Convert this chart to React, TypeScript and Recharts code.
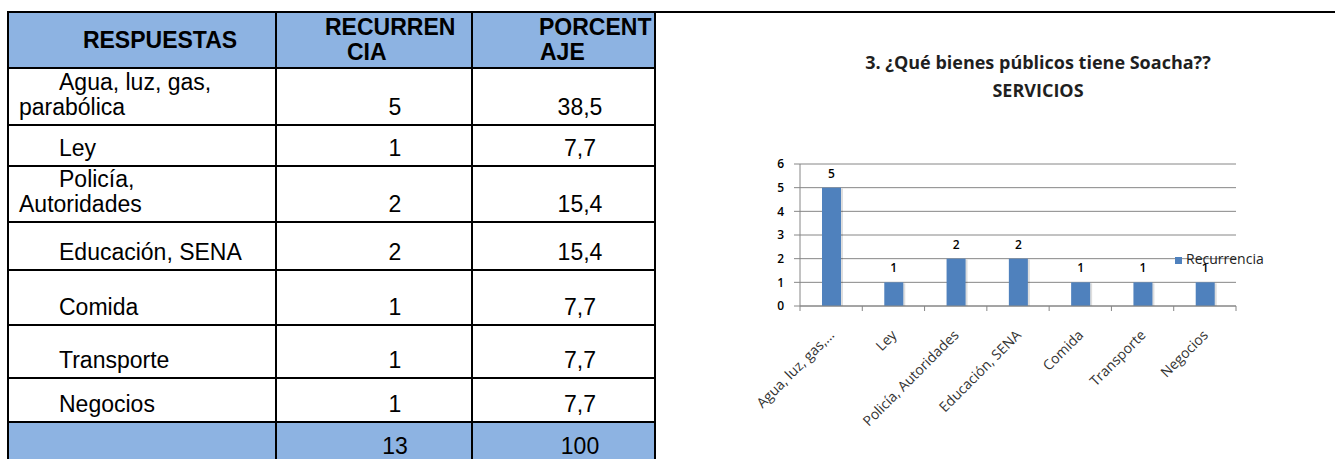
import React from 'react'
import { BarChart, Bar, XAxis, YAxis, CartesianGrid, LabelList, Legend } from 'recharts'

const respuestas = [
  'Agua, luz, gas, parabólica',
  'Ley',
  'Policía, Autoridades',
  'Educación, SENA',
  'Comida',
  'Transporte',
  'Negocios',
]
const recurrencia = [5, 1, 2, 2, 1, 1, 1]
const porcentaje = ['38,5', '7,7', '15,4', '15,4', '7,7', '7,7', '7,7']
const totales = ['13', '100']
const encabezados = [['RESPUESTAS'], ['RECURREN', 'CIA'], ['PORCENT', 'AJE']]
const titulo = ['3. ¿Qué bienes públicos tiene Soacha??', 'SERVICIOS']
const serie = 'Recurrencia'
const yTicks = [0, 1, 2, 3, 4, 5, 6]

const data = respuestas.map((name, i) => ({ name, [serie]: recurrencia[i] }))

// table grid, line centres in page px
const COLS = [8, 276, 472, 655]
const ROWS = [12, 68, 125, 166, 222, 270, 325, 378, 422, 466]
const BLUE = '#8db3e2'
const TABLE_FONT = '"Liberation Sans", Arial, sans-serif'
const CHART_FONT = '"Open Sans", "Noto Sans", sans-serif'
const AXIS = '#868686'

function Cell({ r, c, bg, middle, style, children }: any) {
  return (
    <div
      style={{
        position: 'absolute',
        left: COLS[c] + 1,
        top: ROWS[r] + 1,
        width: COLS[c + 1] - COLS[c] - 2,
        height: ROWS[r + 1] - ROWS[r] - 2,
        background: bg,
        boxSizing: 'border-box',
        display: 'flex',
        flexDirection: 'column',
        justifyContent: middle ? 'center' : 'flex-end',
        paddingBottom: middle ? 0 : 4,
        lineHeight: '25px',
        ...style,
      }}
    >
      {children}
    </div>
  )
}

function Tabla() {
  const lines = []
  COLS.forEach((x, i) =>
    lines.push(
      <div key={'v' + i} style={{ position: 'absolute', left: x - 1, top: ROWS[0] - 1, width: 2, height: ROWS[ROWS.length - 1] - ROWS[0] + 2, background: '#000' }} />
    )
  )
  ROWS.forEach((y, i) =>
    lines.push(
      <div key={'h' + i} style={{ position: 'absolute', left: COLS[0] - 1, top: y - 1, width: COLS[3] - COLS[0] + 2, height: 2, background: '#000' }} />
    )
  )
  const last = respuestas.length + 1
  // total row runs past the bottom of the page, keep its text inside
  const totalStyle = { textAlign: 'center', paddingLeft: 42, paddingBottom: 9, lineHeight: '20px' }
  return (
    <div style={{ fontFamily: TABLE_FONT, fontSize: 23, color: '#000' }}>
      <Cell r={0} c={0} bg={BLUE} middle style={{ fontWeight: 'bold', textAlign: 'center', paddingLeft: 36 }}>
        {encabezados[0][0]}
      </Cell>
      <Cell r={0} c={1} bg={BLUE} middle style={{ fontWeight: 'bold' }}>
        <div style={{ paddingLeft: 48 }}>{encabezados[1][0]}</div>
        <div style={{ paddingLeft: 70 }}>{encabezados[1][1]}</div>
      </Cell>
      <Cell r={0} c={2} bg={BLUE} middle style={{ fontWeight: 'bold' }}>
        <div style={{ paddingLeft: 66 }}>{encabezados[2][0]}</div>
        <div style={{ paddingLeft: 67 }}>{encabezados[2][1]}</div>
      </Cell>
      {respuestas.map((r, i) => (
        <React.Fragment key={r}>
          <Cell r={i + 1} c={0} style={{ paddingLeft: 10, paddingRight: 26, textIndent: 40 }}>
            <div>{r}</div>
          </Cell>
          <Cell r={i + 1} c={1} style={{ textAlign: 'center', paddingLeft: 42 }}>
            <div>{recurrencia[i]}</div>
          </Cell>
          <Cell r={i + 1} c={2} style={{ textAlign: 'center', paddingLeft: 33 }}>
            <div>{porcentaje[i]}</div>
          </Cell>
        </React.Fragment>
      ))}
      <Cell r={last} c={0} bg={BLUE} />
      <Cell r={last} c={1} bg={BLUE} style={totalStyle}>
        <div>{totales[0]}</div>
      </Cell>
      <Cell r={last} c={2} bg={BLUE} style={{ ...totalStyle, paddingLeft: 33 }}>
        <div>{totales[1]}</div>
      </Cell>
      {lines}
    </div>
  )
}

function CategoryTick(props: any) {
  const { x, y, payload, index } = props
  const half = payload.offset ?? 0
  const value = String(payload.value)
  const label = value.length > 20 ? value.slice(0, 15) + '...' : value
  return (
    <g>
      <line x1={x - half} x2={x - half} y1={y} y2={y + 5} stroke={AXIS} />
      {index === respuestas.length - 1 && <line x1={x + half} x2={x + half} y1={y} y2={y + 5} stroke={AXIS} />}
      <text
        transform={`translate(${x + 4},${y + 30}) rotate(-45)`}
        textAnchor="end"
        fontSize={14}
        fontFamily={CHART_FONT}
        fill="#333"
      >
        {label}
      </text>
    </g>
  )
}

function ShadowBar(props: any) {
  const { x, y, width, height, fill } = props
  if (!height) return null
  return (
    <g>
      <rect x={x + 2} y={y + 1} width={width} height={height - 1} fill="#000" fillOpacity={0.13} />
      <rect x={x} y={y} width={width} height={height} fill={fill} />
    </g>
  )
}

function Grafico() {
  return (
    <div style={{ position: 'absolute', left: 740, top: 40 }}>
      <BarChart width={560} height={410} data={data} margin={{ top: 124, right: 64, left: 30, bottom: 34 }}>
        <CartesianGrid vertical={false} stroke={AXIS} />
        <XAxis
          dataKey="name"
          interval={0}
          height={110}
          stroke={AXIS}
          tickLine={false}
          tickSize={0}
          tickMargin={0}
          tick={<CategoryTick />}
        />
        <YAxis
          width={30}
          domain={[0, 6]}
          ticks={yTicks}
          interval={0}
          stroke={AXIS}
          tickSize={6}
          tickMargin={10}
          tick={{ fontSize: 12, fill: '#000', fontFamily: CHART_FONT, fontWeight: 600 }}
        />
        <Legend
          layout="horizontal"
          align="center"
          verticalAlign="middle"
          iconType="square"
          iconSize={7}
          wrapperStyle={{ left: 435, top: 209, width: 'auto', fontFamily: CHART_FONT, fontSize: 14 }}
          formatter={(v: string) => <span style={{ color: '#222' }}>{v}</span>}
        />
        <Bar dataKey={serie} fill="#4f81bd" barSize={19} shape={<ShadowBar />} isAnimationActive={false}>
          <LabelList dataKey={serie} position="top" offset={10} fill="#000" fontSize={12} fontWeight={600} fontFamily={CHART_FONT} />
        </Bar>
      </BarChart>
      <div
        style={{
          position: 'absolute',
          left: 98,
          top: 8,
          width: 400,
          textAlign: 'center',
          fontFamily: CHART_FONT,
          fontWeight: 'bold',
          fontSize: 18,
          lineHeight: '28px',
          color: '#1f1f1f',
        }}
      >
        <div>{titulo[0]}</div>
        <div>{titulo[1]}</div>
      </div>
    </div>
  )
}

export default function App() {
  return (
    <div
      style={{
        position: 'absolute',
        left: 0,
        top: 0,
        width: 1335,
        height: 459,
        overflow: 'hidden',
        background: '#fff',
      }}
    >
      <div style={{ position: 'absolute', left: 7, top: 11, width: 1328, height: 2, background: '#000' }} />
      <Tabla />
      <Grafico />
    </div>
  )
}
